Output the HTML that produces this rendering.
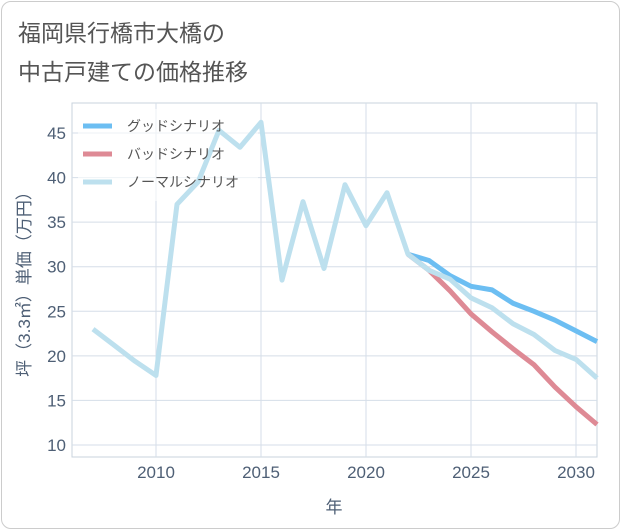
<!DOCTYPE html>
<html><head><meta charset="utf-8"><style>
body{margin:0;background:#fff;font-family:"Liberation Sans","Noto Sans CJK JP",sans-serif}
#frame{position:absolute;left:1px;top:1px;width:617px;height:526px;border:1px solid #ccc;border-radius:10px}
.t{position:absolute;left:18px;font-size:23px;color:#555}
</style></head><body>
<div id="frame"></div>
<div class="t" style="top:14px">福岡県行橋市大橋の</div>
<div class="t" style="top:53px">中古戸建ての価格推移</div>
<svg id="c" width="621" height="530" style="position:absolute;left:0;top:0"></svg>
<script>
const years=[2007,2008,2009,2010,2011,2012,2013,2014,2015,2016,2017,2018,2019,2020,2021,2022,2023,2024,2025,2026,2027,2028,2029,2030,2031];
const normal=[23,21.2,19.4,17.8,37,39.5,45.3,43.4,46.2,28.5,37.3,29.8,39.2,34.6,38.3,31.4,29.6,28.6,26.5,25.4,23.6,22.4,20.6,19.6,17.5];
const fYears=[2022,2023,2024,2025,2026,2027,2028,2029,2030,2031];
const good=[31.4,30.7,29,27.8,27.4,25.9,25,24,22.8,21.6];
const bad=[31.4,29.6,27.3,24.7,22.7,20.8,19,16.5,14.3,12.3];
const yTicks=[10,15,20,25,30,35,40,45];
const xTicks=[2010,2015,2020,2025,2030];
const L=72,R=597,T=103,B=457;
const x=v=>156+(v-2010)*21;
const y=v=>445-(v-10)*(312/35);
const s=document.getElementById('c');const NS='http://www.w3.org/2000/svg';
const TC='#4e5f75';
function el(t,a,p){const e=document.createElementNS(NS,t);for(const k in a)e.setAttribute(k,a[k]);(p||s).appendChild(e);return e;}
let bg=el('rect',{x:L,y:T,width:R-L,height:B-T,fill:'#fff',stroke:'#c8d3de'});

yTicks.forEach(v=>{let g=el('line',{x1:L,x2:R,y1:y(v),y2:y(v),stroke:'#d5dee8'});
let t=el('text',{x:L-6,y:y(v)+6,'text-anchor':'end','font-size':17,fill:TC});t.textContent=v;});
xTicks.forEach(v=>{let g=el('line',{x1:x(v),x2:x(v),y1:T,y2:B,stroke:'#d5dee8'});
let t=el('text',{x:x(v),y:B+21,'text-anchor':'middle','font-size':17,fill:TC});t.textContent=v;});
let lg=el('rect',{x:L+6,y:T+6,width:180,height:92,fill:'rgba(255,255,255,0.6)'});
function line(xs,ys,c,n){let p=el('polyline',{points:xs.map((v,i)=>x(v)+','+y(ys[i])).join(' '),fill:'none',stroke:c,'stroke-width':5,'stroke-linejoin':'round'});}
line(fYears,good,'#6cbef2','good-scenario-line');
line(fYears,bad,'#de8a95','bad-scenario-line');
line(years,normal,'#bde0ee','normal-scenario-line');
[['グッドシナリオ','#6cbef2'],['バッドシナリオ','#de8a95'],['ノーマルシナリオ','#bde0ee']].forEach((d,i)=>{
let yy=T+23+i*28;let l=el('line',{x1:83,x2:112,y1:yy,y2:yy,stroke:d[1],'stroke-width':5});
let t=el('text',{x:127,y:yy+5,'font-size':14,fill:'#555'});t.textContent=d[0];});
let xt=el('text',{x:334,y:513,'text-anchor':'middle','font-size':17,fill:TC});xt.textContent='年';
let yt=el('text',{x:0,y:0,'text-anchor':'middle','font-size':17,fill:TC,transform:'translate(30,'+((T+B)/2)+') rotate(-90)'});yt.textContent='坪（3.3㎡）単価（万円）';
</script>
</body></html>
